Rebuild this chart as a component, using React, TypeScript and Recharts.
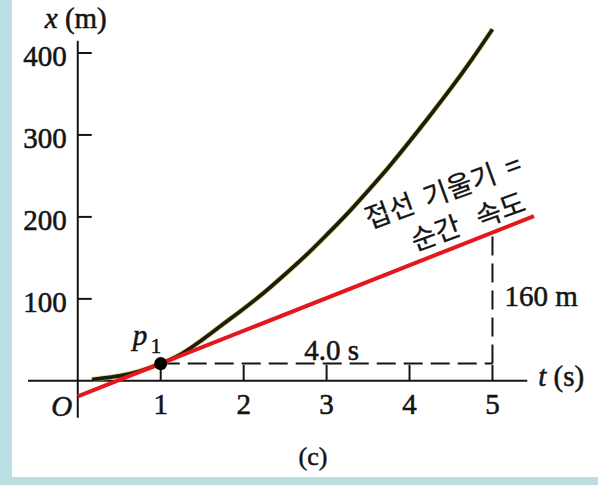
import React from 'react';
import { ComposedChart, Line, XAxis, YAxis, ReferenceLine, ReferenceDot } from 'recharts';

// Position x (m) of the body against time t (s)
const timeS = [0.17, 0.3, 0.5, 0.75, 1.0, 1.25, 1.5, 1.75, 2.0, 2.25, 2.5, 2.75, 3.0, 3.25, 3.5, 3.75, 4.0, 4.25, 4.5, 4.75, 5.0];
const positionM = [1.5, 3.2, 6, 12, 21, 33, 50, 69, 88, 108, 130, 153, 178, 204, 232, 261, 292, 324, 357, 392, 429];

// Axis ticks and extents
const timeTicks = [1, 2, 3, 4, 5];
const positionTicks = [100, 200, 300, 400];
const timeAxisRange = [-0.6, 5.42];
const positionAxisRange = [-45, 415];

// Point p1 and the slope triangle of the tangent there
const p1 = { t: 1, x: 21 };
const runS = 4.0;
const riseM = 160;
const tangentSpan = [0, 5.5];

const curveData = timeS.map((t, i) => ({ t, x: positionM[i] }));
const slope = riseM / runS;
const tangentAt = (t: number) => p1.x + slope * (t - p1.t);

const serif = '"Liberation Serif", "Times New Roman", serif';
const hangul = '"Noto Sans CJK KR", "Noto Sans", sans-serif';
const ink = '#141414';
const red = '#e3171d';
const frame = '#badfe3';

const txt = { fontFamily: serif, fontSize: 29, fill: ink, stroke: ink, strokeWidth: 0.55 };

export default function App() {
  const tEnd = p1.t + runS;
  return (
    <div style={{ position: 'absolute', left: 0, top: 0, width: 598, height: 485, background: '#fff', overflow: 'hidden' }}>
      <ComposedChart
        width={598}
        height={485}
        data={curveData}
        margin={{ top: 12, right: 6, left: 28, bottom: 55 }}
      >
        <XAxis dataKey="t" type="number" domain={[-0.6, 6.2]} hide allowDataOverflow />
        <YAxis type="number" domain={[-60, 450]} hide allowDataOverflow />

        {/* axes */}
        <ReferenceLine
          segment={[{ x: timeAxisRange[0], y: 0 }, { x: timeAxisRange[1], y: 0 }]}
          stroke={ink}
          strokeWidth={2}
          ifOverflow="visible"
        />
        <ReferenceLine
          segment={[{ x: 0, y: positionAxisRange[0] }, { x: 0, y: positionAxisRange[1] }]}
          stroke={ink}
          strokeWidth={2}
          ifOverflow="visible"
        />

        {timeTicks.map((t) => (
          <ReferenceDot
            key={`t${t}`}
            x={t}
            y={0}
            ifOverflow="visible"
            shape={(p: any) => (
              <g>
                <line x1={p.cx} y1={p.cy} x2={p.cx} y2={p.cy - 16} stroke={ink} strokeWidth={2} />
                <text x={p.cx} y={p.cy + 23} textAnchor="middle" dominantBaseline="central" {...txt}>
                  {t}
                </text>
              </g>
            )}
          />
        ))}
        {positionTicks.map((v) => (
          <ReferenceDot
            key={`x${v}`}
            x={0}
            y={v}
            ifOverflow="visible"
            shape={(p: any) => (
              <g>
                <line x1={p.cx} y1={p.cy} x2={p.cx + 14} y2={p.cy} stroke={ink} strokeWidth={2} />
                <text x={p.cx - 11} y={p.cy + 3} textAnchor="end" dominantBaseline="central" {...txt}>
                  {v}
                </text>
              </g>
            )}
          />
        ))}

        {/* origin and axis titles */}
        <ReferenceDot
          x={0}
          y={0}
          ifOverflow="visible"
          shape={(p: any) => (
            <text x={p.cx - 16} y={p.cy + 25} textAnchor="middle" dominantBaseline="central" {...txt} fontStyle="italic">
              O
            </text>
          )}
        />
        <ReferenceDot
          x={0}
          y={positionAxisRange[1]}
          ifOverflow="visible"
          shape={(p: any) => (
            <text x={p.cx - 2} y={p.cy - 23} textAnchor="middle" dominantBaseline="central" {...txt}>
              <tspan fontStyle="italic">x</tspan> (m)
            </text>
          )}
        />
        <ReferenceDot
          x={timeAxisRange[1]}
          y={0}
          ifOverflow="visible"
          shape={(p: any) => (
            <text x={p.cx + 11} y={p.cy - 5} textAnchor="start" dominantBaseline="central" {...txt}>
              <tspan fontStyle="italic">t</tspan> (s)
            </text>
          )}
        />

        {/* slope triangle */}
        <ReferenceLine
          segment={[{ x: p1.t, y: p1.x }, { x: tEnd, y: p1.x }]}
          stroke={ink}
          strokeWidth={2}
          strokeDasharray="19 8"
          ifOverflow="visible"
        />
        <ReferenceLine
          segment={[{ x: tEnd, y: p1.x }, { x: tEnd, y: p1.x + riseM }]}
          stroke={ink}
          strokeWidth={2}
          strokeDasharray="19 8"
          ifOverflow="visible"
        />
        <ReferenceDot
          x={(p1.t + tEnd) / 2}
          y={p1.x}
          ifOverflow="visible"
          shape={(p: any) => (
            <text x={p.cx + 5} y={p.cy - 14} textAnchor="middle" dominantBaseline="central" {...txt}>
              {`${runS.toFixed(1)} s`}
            </text>
          )}
        />
        <ReferenceDot
          x={tEnd}
          y={p1.x + riseM / 2}
          ifOverflow="visible"
          shape={(p: any) => (
            <text x={p.cx + 12} y={p.cy - 2} textAnchor="start" dominantBaseline="central" {...txt}>
              {`${riseM} m`}
            </text>
          )}
        />

        {/* curve */}
        <Line
          dataKey="x"
          type="monotone"
          stroke="#cfcb45"
          strokeOpacity={0.55}
          strokeWidth={5.5}
          dot={false}
          activeDot={false}
          isAnimationActive={false}
        />
        <Line
          dataKey="x"
          type="monotone"
          stroke="#1d1d0e"
          strokeWidth={3.8}
          dot={false}
          activeDot={false}
          isAnimationActive={false}
        />

        {/* tangent at p1 */}
        <ReferenceLine
          segment={[
            { x: tangentSpan[0], y: tangentAt(tangentSpan[0]) },
            { x: tangentSpan[1], y: tangentAt(tangentSpan[1]) },
          ]}
          stroke={red}
          strokeWidth={4}
          ifOverflow="visible"
        />
        <ReferenceDot
          x={4.6}
          y={tangentAt(4.6)}
          ifOverflow="visible"
          shape={(p: any) => {
            const a = { x: p.cx - 17, y: p.cy - 56 };
            const b = { x: p.cx + 8, y: p.cy - 26 };
            return (
              <g fontFamily={hangul} fontSize={27.5} fill={ink} stroke={ink} strokeWidth={0.3}>
                <text
                  x={a.x}
                  y={a.y}
                  textAnchor="middle"
                  dominantBaseline="central"
                  style={{ wordSpacing: 5 }}
                  transform={`rotate(-20 ${a.x} ${a.y})`}
                >
                  접선 기울기 =
                </text>
                <text
                  x={b.x}
                  y={b.y}
                  textAnchor="middle"
                  dominantBaseline="central"
                  style={{ wordSpacing: 12 }}
                  transform={`rotate(-20 ${b.x} ${b.y})`}
                >
                  순간 속도
                </text>
              </g>
            );
          }}
        />

        {/* point p1 */}
        <ReferenceDot
          x={p1.t}
          y={p1.x}
          ifOverflow="visible"
          shape={(p: any) => (
            <g>
              <circle cx={p.cx} cy={p.cy} r={6.5} fill="#000" />
              <text x={p.cx - 28} y={p.cy - 19} {...txt} fontStyle="italic">
                p
              </text>
              <text x={p.cx - 10} y={p.cy - 11} {...txt} fontSize={21}>
                1
              </text>
            </g>
          )}
        />
      </ComposedChart>

      <div
        style={{
          position: 'absolute',
          left: 280,
          top: 442,
          width: 66,
          textAlign: 'center',
          fontFamily: serif,
          fontSize: 26,
          lineHeight: '30px',
          color: ink,
          WebkitTextStroke: '0.5px ' + ink,
        }}
      >
        (c)
      </div>
      <div style={{ position: 'absolute', left: 0, top: 0, width: 12, height: 485, background: frame }} />
      <div style={{ position: 'absolute', left: 0, top: 477, width: 598, height: 8, background: frame }} />
    </div>
  );
}
